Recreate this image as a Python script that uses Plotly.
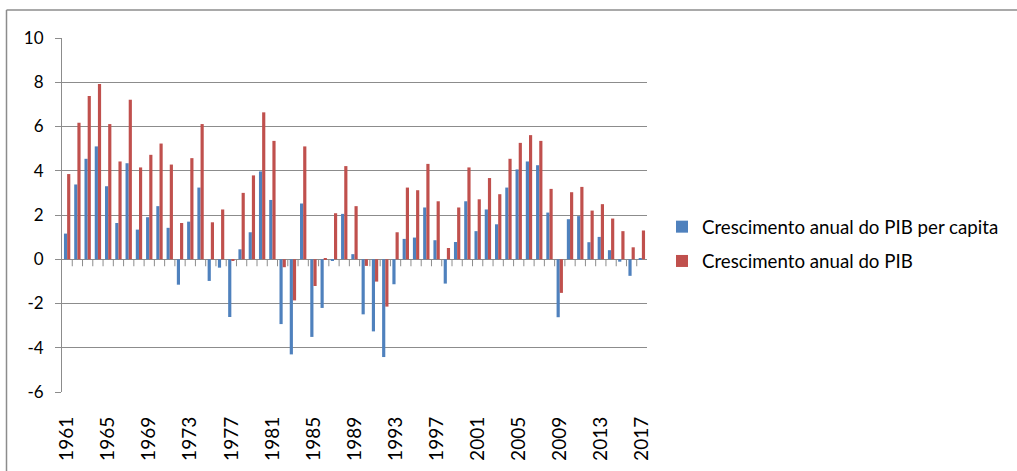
import plotly.graph_objects as go

# Annual growth, 1961-2017 (%)
years = list(range(1961, 2018))

pib_per_capita = [
    1.16, 3.38, 4.54, 5.10, 3.30, 1.64, 4.34, 1.34, 1.90, 2.40,
    1.42, -1.15, 1.70, 3.24, -0.98, -0.38, -2.61, 0.45, 1.22, 3.97,
    2.68, -2.93, -4.30, 2.52, -3.51, -2.20, -0.05, 2.05, 0.23, -2.49,
    -3.26, -4.42, -1.13, 0.92, 0.98, 2.34, 0.86, -1.10, 0.78, 2.62,
    1.27, 2.25, 1.58, 3.24, 4.06, 4.42, 4.25, 2.11, -2.62, 1.81,
    1.95, 0.77, 1.01, 0.41, -0.11, -0.75, 0.05,
]

pib = [
    3.85, 6.17, 7.38, 7.92, 6.11, 4.42, 7.21, 4.15, 4.72, 5.23,
    4.28, 1.64, 4.57, 6.11, 1.67, 2.25, -0.08, 3.00, 3.79, 6.64,
    5.35, -0.36, -1.86, 5.10, -1.21, 0.05, 2.08, 4.21, 2.40, -0.30,
    -1.01, -2.14, 1.22, 3.24, 3.12, 4.31, 2.62, 0.51, 2.34, 4.15,
    2.71, 3.67, 2.94, 4.54, 5.26, 5.61, 5.35, 3.18, -1.52, 3.03,
    3.27, 2.20, 2.49, 1.84, 1.27, 0.54, 1.30,
]

year_labels = list(range(1961, 2018, 4))
y_ticks = [-6, -4, -2, 0, 2, 4, 6, 8, 10]

series_names = ["Crescimento anual do PIB per capita", "Crescimento anual do PIB"]
series_colors = ["#4F81BD", "#C0504D"]

FONT = "Lato"
GRID = "#8C8C8C"

W, H = 1017, 471
ML, MR, MT, MB = 62, 370, 38, 79

fig = go.Figure()
for name, vals, col, grp in zip(series_names, [pib_per_capita, pib], series_colors, ["a", "b"]):
    fig.add_trace(go.Bar(
        x=years, y=vals, name=name, legendgroup=grp,
        marker=dict(color=col, line=dict(width=0)),
    ))

# small tick marks hanging under the zero line, at category boundaries
shapes = []
for y in years[1:]:
    shapes.append(dict(
        type="line", xref="x", yref="y", x0=y - 0.5, x1=y - 0.5,
        ysizemode="pixel", yanchor=0, y0=0, y1=-7,
        line=dict(color=GRID, width=1),
    ))

# chart frame (top and left edges)
pw = W - ML - MR
ph = H - MT - MB
fx = (6.5 - ML) / pw
fy = (H - MB - 10) / ph
shapes.append(dict(type="line", xref="paper", yref="paper",
                   x0=fx, x1=(W + 5 - ML) / pw, y0=fy, y1=fy,
                   line=dict(color=GRID, width=1.5)))
shapes.append(dict(type="line", xref="paper", yref="paper",
                   x0=fx, x1=fx, y0=fy, y1=-(MB + 5) / ph,
                   line=dict(color=GRID, width=1.5)))

fig.update_layout(
    width=W, height=H,
    margin=dict(l=ML, r=MR, t=MT, b=MB, pad=0),
    paper_bgcolor="white", plot_bgcolor="white",
    font=dict(family=FONT, color="#000000"),
    barmode="group", bargap=0.38, bargroupgap=0.0,
    shapes=shapes,
    showlegend=True,
    legend=dict(
        x=(662 - ML) / pw, xanchor="left",
        y=(H - MB - 244) / ph, yanchor="middle",
        font=dict(family=FONT, size=18.7, color="#000000"),
        tracegroupgap=7,
        bgcolor="rgba(0,0,0,0)",
    ),
    xaxis=dict(
        range=[1960.5, 2017.5],
        tickmode="array", tickvals=year_labels,
        ticktext=[str(v) for v in year_labels],
        tickangle=-90, ticks="", showgrid=False, zeroline=False,
        showline=False, automargin=False,
        tickfont=dict(family=FONT, size=19, color="#000000"),
        ticklabelstandoff=20,
    ),
    yaxis=dict(
        range=[-6, 10],
        tickmode="array", tickvals=y_ticks,
        ticktext=[str(v) for v in y_ticks],
        showgrid=True, gridcolor=GRID, gridwidth=1,
        zeroline=True, zerolinecolor=GRID, zerolinewidth=1,
        showline=True, linecolor=GRID, linewidth=1,
        ticks="outside", ticklen=6, tickcolor=GRID, automargin=False,
        tickfont=dict(family=FONT, size=17, color="#000000"),
        ticklabelstandoff=8,
    ),
)

fig.write_html("out.html")
